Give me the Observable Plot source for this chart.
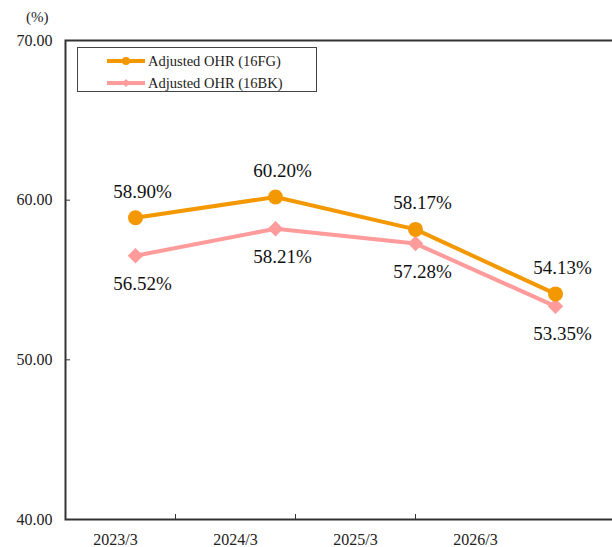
<!DOCTYPE html>
<html>
<head>
<meta charset="utf-8">
<script src="https://cdn.jsdelivr.net/npm/d3@7"></script>
<script src="https://cdn.jsdelivr.net/npm/@observablehq/plot@0.6"></script>
<style>
  html, body { margin: 0; padding: 0; background: #fff; overflow: hidden; }
  #wrap { position: relative; width: 612px; height: 547px; overflow: hidden; font-family: "Liberation Serif", serif; }
  #wrap > svg { position: absolute; left: 0; top: 0; max-width: none !important; width: 640px !important; height: 547px !important; }
  #unit { position: absolute; left: 26px; top: 9px; font-size: 15px; color: #222; }
  #legend { position: absolute; left: 77px; top: 47px; width: 240px; height: 45px; border: 1px solid #444; background: #fff; box-sizing: border-box; }
  .row { position: absolute; left: 29px; height: 20px; display: flex; align-items: center; font-size: 14.5px; color: #222; }
  .row svg { margin-right: 3px; }
</style>
</head>
<body>
<div id="wrap">
  <div id="unit">(%)</div>
</div>
<script>
const categories = ["2023/3", "2024/3", "2025/3", "2026/3"];
const fgValues = [58.90, 60.20, 58.17, 54.13];
const bkValues = [56.52, 58.21, 57.28, 53.35];
const yTicks = [40, 50, 60, 70];
const seriesNames = ["Adjusted OHR (16FG)", "Adjusted OHR (16BK)"];
const colors = ["#F39800", "#FF9B9B"];

const fg = categories.map((c, i) => ({cat: c, v: fgValues[i]}));
const bk = categories.map((c, i) => ({cat: c, v: bkValues[i]}));

const W = 640, H = 547, MT = 40, MB = 28;
const serif = "Liberation Serif, serif";

// Axis layer: category labels, y tick labels and inner ticks between categories
const axisLayer = Plot.plot({
  width: W, height: H,
  marginTop: MT, marginBottom: MB, marginLeft: 55, marginRight: 105,
  style: {background: "transparent", color: "#222", overflow: "visible"},
  x: {type: "linear", domain: [0, categories.length], axis: null},
  y: {domain: [40, 70], axis: null},
  marks: [
    Plot.axisX({ticks: d3.range(1, categories.length), tickSize: 5, dy: -5, text: null, stroke: "#333", label: null}),
    Plot.text(categories, {x: (d, i) => i + 0.5, frameAnchor: "bottom", lineAnchor: "top", dy: 14, fontSize: 16, fill: "#222"}),
    Plot.axisY({ticks: yTicks, tickSize: 0, tickPadding: 3, tickFormat: d3.format(".2f"), fontSize: 16, fill: "#222", label: null})
  ]
});

// Data layer
const dataLayer = Plot.plot({
  width: W, height: H,
  marginTop: MT, marginBottom: MB, marginLeft: 65, marginRight: 15,
  style: {background: "transparent", color: "#222", overflow: "visible"},
  x: {type: "point", domain: categories, padding: 0.5, axis: null},
  y: {domain: [40, 70], axis: null},
  marks: [
    Plot.axisY({ticks: [50, 60], tickSize: 5, dx: 5, text: null, stroke: "#333", label: null}),
    Plot.frame({stroke: "#333", strokeWidth: 2}),
    Plot.line(bk, {x: "cat", y: "v", stroke: colors[1], strokeWidth: 4}),
    Plot.dot(bk, {x: "cat", y: "v", symbol: "diamond2", r: 7, fill: colors[1], stroke: "none"}),
    Plot.line(fg, {x: "cat", y: "v", stroke: colors[0], strokeWidth: 4}),
    Plot.dot(fg, {x: "cat", y: "v", symbol: "circle", r: 7.5, fill: colors[0], stroke: "none"}),
    Plot.text(fg, {x: "cat", y: "v", text: d => d.v.toFixed(2) + "%", dx: 7, dy: -26, fontSize: 19, fill: "#111"}),
    Plot.text(bk, {x: "cat", y: "v", text: d => d.v.toFixed(2) + "%", dx: 7, dy: 28, fontSize: 19, fill: "#111"})
  ]
});

// Force serif font on every text element (inline style + attribute)
for (const svg of [axisLayer, dataLayer]) {
  svg.style.fontFamily = serif;
  svg.setAttribute("font-family", serif);
  d3.select(svg).selectAll("g, text, tspan")
    .attr("font-family", serif)
    .style("font-family", serif);
}

const wrap = document.getElementById("wrap");
wrap.appendChild(axisLayer);
wrap.appendChild(dataLayer);

// Legend
const legend = document.createElement("div");
legend.id = "legend";
const symbols = [
  '<circle cx="19" cy="5" r="4" fill="' + colors[0] + '"/>',
  '<path d="M19 1 L23 5 L19 9 L15 5 Z" fill="' + colors[1] + '"/>'
];
seriesNames.forEach((name, i) => {
  const row = document.createElement("div");
  row.className = "row";
  row.style.top = (i === 0 ? 3 : 25) + "px";
  row.innerHTML = '<svg width="38" height="10"><line x1="0" x2="38" y1="5" y2="5" stroke="' + colors[i] + '" stroke-width="4"/>' + symbols[i] + '</svg><span>' + name + '</span>';
  legend.appendChild(row);
});
wrap.appendChild(legend);
</script>
</body>
</html>
